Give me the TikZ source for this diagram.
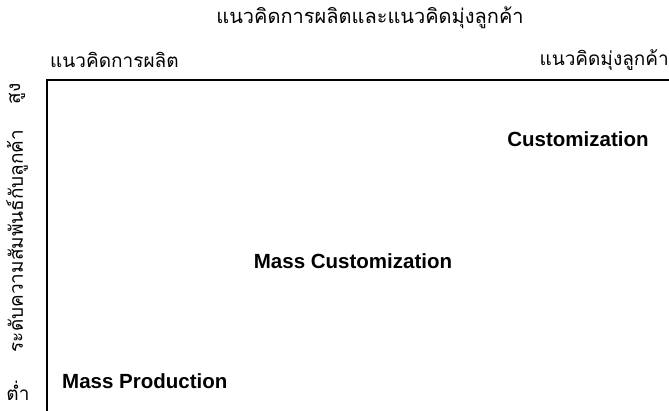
\documentclass[tikz,border=0pt]{standalone}
\usepackage{fontspec}
\setmainfont{Liberation Sans}
\newfontfamily\thaifont[Script=Thai]{Loma}
\begin{document}
\begin{tikzpicture}[x=1pt,y=-1pt,
  thai/.style={font=\thaifont\fontsize{19}{22}\selectfont, inner sep=0pt},
  eng/.style={font=\bfseries\fontsize{20.5}{24}\selectfont, inner sep=0pt},
  axis/.style={line width=2.4pt}]
\useasboundingbox (0,0) rectangle (669,411);
\node[thai, font=\thaifont\fontsize{20}{23}\selectfont] (title) at (370,18) {แนวคิดการผลิตและแนวคิดมุ่งลูกค้า};
\node[thai, anchor=west] (prod) at (50,60) {แนวคิดการผลิต};
\node[thai, anchor=east] (cust) at (669,60) {แนวคิดมุ่งลูกค้า};
\node[thai, rotate=90] (high) at (17,94) {สูง};
\node[thai, rotate=90] (ylab) at (17,241) {ระดับความสัมพันธ์กับลูกค้า};
\node[thai] (low) at (18,391) {ต่ำ};
\coordinate (corner) at (47,80);
\coordinate (bottom) at (47,411);
\coordinate (right) at (669,80);
\draw[axis] (bottom) -- (corner) -- (right);
\node[eng] (c1) at (578,139) {Customization};
\node[eng] (c2) at (353,261) {Mass Customization};
\node[eng, anchor=west] (c3) at (62,381) {Mass Production};
\end{tikzpicture}
\end{document}
